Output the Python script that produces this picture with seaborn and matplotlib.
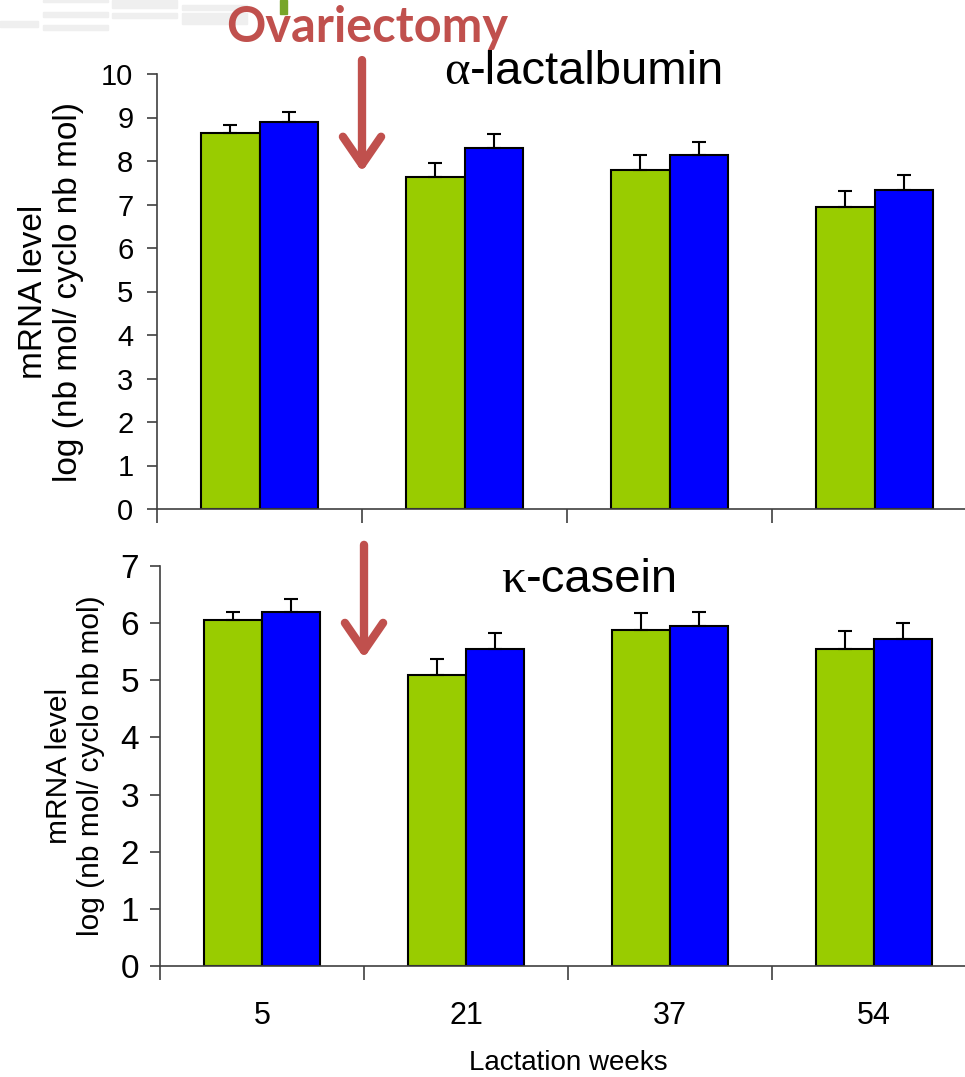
import numpy as np
import pandas as pd
import matplotlib
matplotlib.use("Agg")
import matplotlib.pyplot as plt
from matplotlib.patches import Rectangle
import seaborn as sns

# ---------------- data ----------------
weeks = ["5", "21", "37", "54"]
groups = ["Control", "Ovariectomized"]
palette = ["#99CC00", "#0000FF"]

lact_ctrl = [8.64, 7.63, 7.79, 6.94]
lact_ovx = [8.90, 8.30, 8.14, 7.33]
lact_ctrl_err = [0.19, 0.32, 0.35, 0.37]
lact_ovx_err = [0.23, 0.32, 0.30, 0.35]

cas_ctrl = [6.06, 5.09, 5.88, 5.55]
cas_ovx = [6.20, 5.55, 5.95, 5.72]
cas_ctrl_err = [0.14, 0.28, 0.30, 0.31]
cas_ovx_err = [0.22, 0.28, 0.25, 0.28]

ylabel = "mRNA level\nlog (nb mol/ cyclo nb mol)"
red = "#C0504D"

sns.set_style("ticks")
plt.rcParams['font.family'] = ['Liberation Sans', 'DejaVu Sans']
plt.rcParams['text.color'] = 'black'
plt.rcParams['axes.labelcolor'] = 'black'

W, H = 965, 1077
fig = plt.figure(figsize=(W / 100, H / 100), dpi=100)


def px_box(left, top, right, bottom):
    return [left / W, 1 - bottom / H, (right - left) / W, (bottom - top) / H]


def make_df(ctrl, ovx):
    return pd.DataFrame({
        "week": weeks * 2,
        "group": [groups[0]] * 4 + [groups[1]] * 4,
        "value": ctrl + ovx,
    })


def draw_panel(ax, ctrl, ovx, ctrl_err, ovx_err, ymax, show_labels,
               tick_fs, tick_pad, label_fs, label_x):
    df = make_df(ctrl, ovx)
    sns.barplot(data=df, x="week", y="value", hue="group", order=weeks,
                hue_order=groups, palette=palette, width=0.57,
                edgecolor="black", linewidth=1.5, errorbar=None,
                legend=False, ax=ax, saturation=1)
    for cont, errs in zip(ax.containers, [ctrl_err, ovx_err]):
        for bar, e in zip(cont, errs):
            x = bar.get_x() + bar.get_width() / 2
            ax.errorbar(x, bar.get_height(), yerr=[[0], [e]], color="black",
                        capsize=5, elinewidth=1.5, capthick=1.5, zorder=1)
    ax.set_xlim(-0.5, 3.5)
    ax.set_ylim(0, ymax)
    ax.set_yticks(range(0, ymax + 1))
    ax.set_xticks(np.arange(-0.5, 4.5, 1), minor=True)
    ax.tick_params(axis="x", which="major", length=0, pad=25, labelsize=22,
                   labelcolor="black", labelbottom=show_labels)
    ax.tick_params(axis="x", which="minor", length=10, width=1.2,
                   color="#404040", direction="out")
    ax.tick_params(axis="y", length=7, width=1.2, color="#404040",
                   labelsize=tick_fs, labelcolor="black", pad=tick_pad)
    for s in ["top", "right"]:
        ax.spines[s].set_visible(False)
    for s in ["left", "bottom"]:
        ax.spines[s].set_color("#404040")
        ax.spines[s].set_linewidth(1.2)
    ax.set_ylabel(ylabel, fontsize=label_fs, linespacing=1.15, va="center")
    ax.yaxis.set_label_coords(label_x, 0.5)
    ax.set_xlabel("")


ax1 = fig.add_axes(px_box(157, 74, 157 + 4 * 205, 509))
draw_panel(ax1, lact_ctrl, lact_ovx, lact_ctrl_err, lact_ovx_err, 10, False,
           21, 10, 24, -0.129)

ax2 = fig.add_axes(px_box(160, 566, 160 + 4 * 204, 966))
draw_panel(ax2, cas_ctrl, cas_ovx, cas_ctrl_err, cas_ovx_err, 7, True,
           24, 8, 21.5, -0.104)
ax2.set_xlabel("Lactation weeks", fontsize=20, labelpad=14)

# panel titles (Greek letter in serif, rest in sans)
fig.text(470 / W, 1 - 72 / H, "α", fontsize=35, family="Liberation Serif",
         ha="right", va="center")
fig.text(470 / W, 1 - 72 / H, "-lactalbumin", fontsize=34, ha="left", va="center")
fig.text(526 / W, 1 - 580 / H, "κ", fontsize=35, family="Liberation Serif",
         ha="right", va="center")
fig.text(526 / W, 1 - 580 / H, "-casein", fontsize=34, ha="left", va="center")

# ovariectomy arrows
arrow = dict(arrowstyle="->,head_length=0.8,head_width=0.55", color=red,
             lw=6, mutation_scale=25, shrinkA=0, shrinkB=0)
ax1.annotate("", xy=(0.5, 7.75), xytext=(0.5, 10.32), arrowprops=arrow,
             annotation_clip=False)
ax2.annotate("", xy=(0.5, 5.39), xytext=(0.5, 7.37), arrowprops=arrow,
             annotation_clip=False)

fig.text(367 / W, 1 - 28 / H, "Ovariectomy", fontsize=35, fontweight="bold",
         family="Lato", color=red, ha="center", va="center")

# slide decorations at the top-left
fig.add_artist(Rectangle((280 / W, 1 - 14 / H), 7 / W, 14 / H,
                         color="#77A52A", transform=fig.transFigure))
for (l, t, r, b) in [(0, 21, 38, 27), (43, 12, 108, 17), (43, 25, 108, 30),
                     (43, 0, 108, 2), (112, 0, 177, 8), (112, 13, 177, 18),
                     (182, 5, 247, 10), (182, 13, 247, 24)]:
    fig.add_artist(Rectangle((l / W, 1 - b / H), (r - l) / W, (b - t) / H,
                             color="#EFEFEF", transform=fig.transFigure,
                             zorder=0))

fig.savefig("out.png", dpi=100)
